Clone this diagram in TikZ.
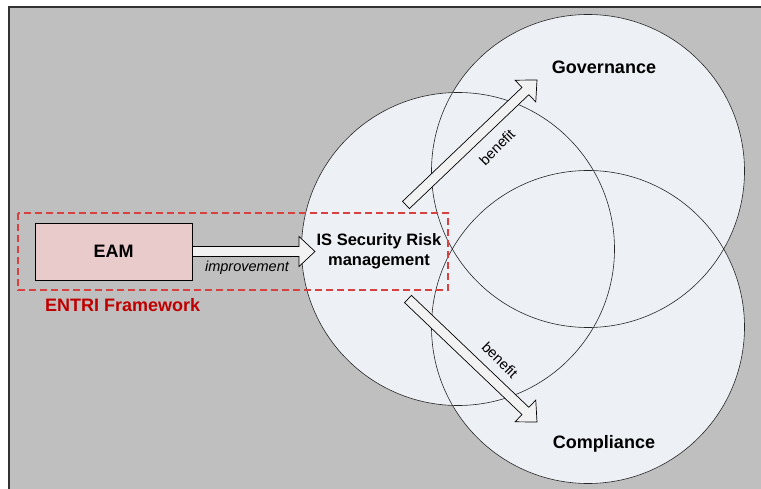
\documentclass[tikz,border=0pt]{standalone}
\usepackage{fontspec}
\setmainfont{Liberation Sans}
\usetikzlibrary{calc}
\definecolor{bggray}{HTML}{BFBFBF}
\definecolor{circfill}{HTML}{EDF0F5}
\definecolor{eamfill}{HTML}{EACBCB}
\definecolor{arrfill}{HTML}{F2F2F2}
\definecolor{dashred}{HTML}{D94040}
\definecolor{entrired}{HTML}{C00000}
\tikzset{
  bigcircle/.style={circle, minimum size=313pt, inner sep=0pt},
  circfillst/.style={fill=circfill},
  circline/.style={draw=black!85, line width=0.6pt},
  eambox/.style={draw=black, line width=0.8pt, fill=eamfill, minimum width=157pt, minimum height=57pt, inner sep=0pt, font=\fontsize{18}{20}\selectfont\bfseries},
  blockarr/.style={draw=black, line width=0.7pt, fill=arrfill, line join=miter},
  frame/.style={draw=dashred, line width=1.3pt, dash pattern=on 7pt off 4pt},
  bigtxt/.style={font=\fontsize{18}{20}\selectfont\bfseries, inner sep=0pt},
  midtxt/.style={font=\fontsize{16.5}{20}\selectfont\bfseries, align=center, inner sep=0pt},
  lbltxt/.style={font=\fontsize{14.5}{16}\selectfont\itshape, inner sep=0pt},
  benefittxt/.style={font=\fontsize{14.5}{16}\selectfont, inner sep=0pt}
}
\newcommand{\blockarrow}[2]{%
  \coordinate (hb) at ($(#2)!16pt!(#1)$);
  \draw[blockarr] ($(#1)!5pt!90:(#2)$) -- ($(hb)!5pt!-90:(#1)$) -- ($(hb)!15pt!-90:(#1)$) -- (#2) -- ($(hb)!15pt!90:(#1)$) -- ($(hb)!5pt!90:(#1)$) -- ($(#1)!5pt!-90:(#2)$) -- cycle;}
\begin{document}
\begin{tikzpicture}[x=1pt,y=-1pt]
\useasboundingbox (0,0) rectangle (761,489);
\fill[white] (0,0) rectangle (761,489);
\draw[fill=bggray, draw=black!80, line width=1.2pt] (9,7) rectangle (765,495);
% circles
\node[bigcircle, circfillst] (isr) at (458,249) {};
\node[bigcircle, circfillst] (gov) at (588,171) {};
\node[bigcircle, circfillst] (comp) at (588,327) {};
\node[bigcircle, circline] at (458,249) {};
\node[bigcircle, circline] at (588,171) {};
\node[bigcircle, circline] at (588,327) {};
% framework box
\draw[frame] (18,213) rectangle (448,290);
\node[eambox] (eam) at (113.5,251.5) {EAM};
\node[text=entrired, bigtxt, anchor=west] (entri) at (45,305) {ENTRI Framework};
% arrows
\coordinate (eamout) at (eam.east);
\coordinate (isrin) at (315,251.5);
\blockarrow{eamout}{isrin}
\coordinate (up1) at (406,205);
\coordinate (up2) at (537,80);
\blockarrow{up1}{up2}
\coordinate (dn1) at (408,299);
\coordinate (dn2) at (537,422);
\blockarrow{dn1}{dn2}
% texts
\node[midtxt] (isrtxt) at (379,251) {IS Security Risk\\management};
\node[lbltxt] (impr) at (247,268) {improvement};
\node[bigtxt] (govtxt) at (604,67) {Governance};
\node[bigtxt] (comptxt) at (604,444) {Compliance};
\node[benefittxt, rotate=45] (ben1) at (497,147) {benefit};
\node[benefittxt, rotate=-45] (ben2) at (500,360) {benefit};
\end{tikzpicture}
\end{document}
